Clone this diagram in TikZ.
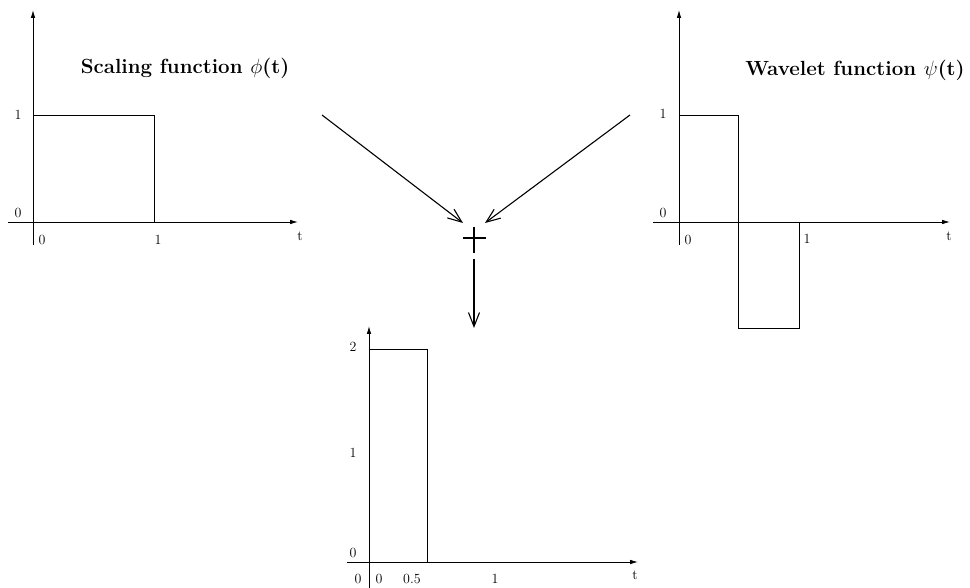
\documentclass[tikz,border=0pt]{standalone}
\usetikzlibrary{arrows.meta}
\begin{document}
\begin{tikzpicture}[x=1pt,y=-1pt,
  axis/.style={line width=0.8pt,-{Latex[length=8pt,width=4.5pt]}},
  sig/.style={line width=0.9pt},
  conn/.style={line width=1.1pt,-{Straight Barb[length=14pt,width=11pt,line width=1.1pt]}},
  lab/.style={font=\fontsize{14}{16}\selectfont,inner sep=0pt},
  ttl/.style={font=\fontsize{20.5}{23}\selectfont\bfseries,inner sep=0pt}]
\useasboundingbox (0,0) rectangle (970,588);
% ---------- left plot: scaling function
\coordinate (La0) at (33,245); \coordinate (La1) at (33,10);
\coordinate (Lb0) at (8,222);  \coordinate (Lb1) at (298,222);
\draw[axis] (La0) -- (La1);
\draw[axis] (Lb0) -- (Lb1);
\draw[sig] (33,222) -- (33,115) -- (154,115) -- (154,222);
\node[lab] (l1) at (18,115) {1};
\node[lab] (l0) at (18,213) {0};
\node[lab] (lx0) at (42,240) {0};
\node[lab] (lx1) at (158,240) {1};
\node[lab] (lt) at (300,236) {t};
\node[ttl] (ltitle) at (185,68) {Scaling function $\phi$(t)};
% ---------- right plot: wavelet function
\coordinate (Ra0) at (679,245); \coordinate (Ra1) at (679,10);
\coordinate (Rb0) at (653,222); \coordinate (Rb1) at (950,222);
\draw[axis] (Ra0) -- (Ra1);
\draw[axis] (Rb0) -- (Rb1);
\draw[sig] (679,222) -- (679,115) -- (738,115) -- (738,328) -- (799,328) -- (799,222);
\node[lab] (r1) at (663,114) {1};
\node[lab] (r0) at (663,213) {0};
\node[lab] (rx0) at (688,240) {0};
\node[lab] (rx1) at (807,239) {1};
\node[lab] (rt) at (949,236) {t};
\node[ttl] (rtitle) at (855,70) {Wavelet function $\psi$(t)};
% ---------- bottom plot: sum
\coordinate (Ba0) at (369,588); \coordinate (Ba1) at (369,326);
\coordinate (Bb0) at (347,562); \coordinate (Bb1) at (638,562);
\draw[axis] (Ba0) -- (Ba1);
\draw[axis] (Bb0) -- (Bb1);
\draw[sig] (369,562) -- (369,349) -- (427,349) -- (427,562);
\node[lab] (b2) at (353,347) {2};
\node[lab] (b1) at (353,453) {1};
\node[lab] (b0) at (353,553) {0};
\node[lab] (bx00) at (358,579) {0};
\node[lab] (bx0) at (379,579) {0};
\node[lab] (bx05) at (412,579) {0.5};
\node[lab] (bx1) at (495,579) {1};
\node[lab] (bt) at (635,575) {t};
% ---------- adder
\coordinate (sum) at (474,238);
\coordinate (inL) at (322,115);
\coordinate (inR) at (630,115);
\coordinate (tipL) at (463,223);
\coordinate (tipR) at (485,223);
\coordinate (outS) at (474,259);
\coordinate (outE) at (474,328);
\draw[line width=1.2pt] (463,238) -- (486,238);
\draw[line width=1.2pt] (474,227) -- (474,253);
\draw[conn] (inL) -- (tipL);
\draw[conn] (inR) -- (tipR);
\draw[conn] (outS) -- (outE);
\end{tikzpicture}
\end{document}
